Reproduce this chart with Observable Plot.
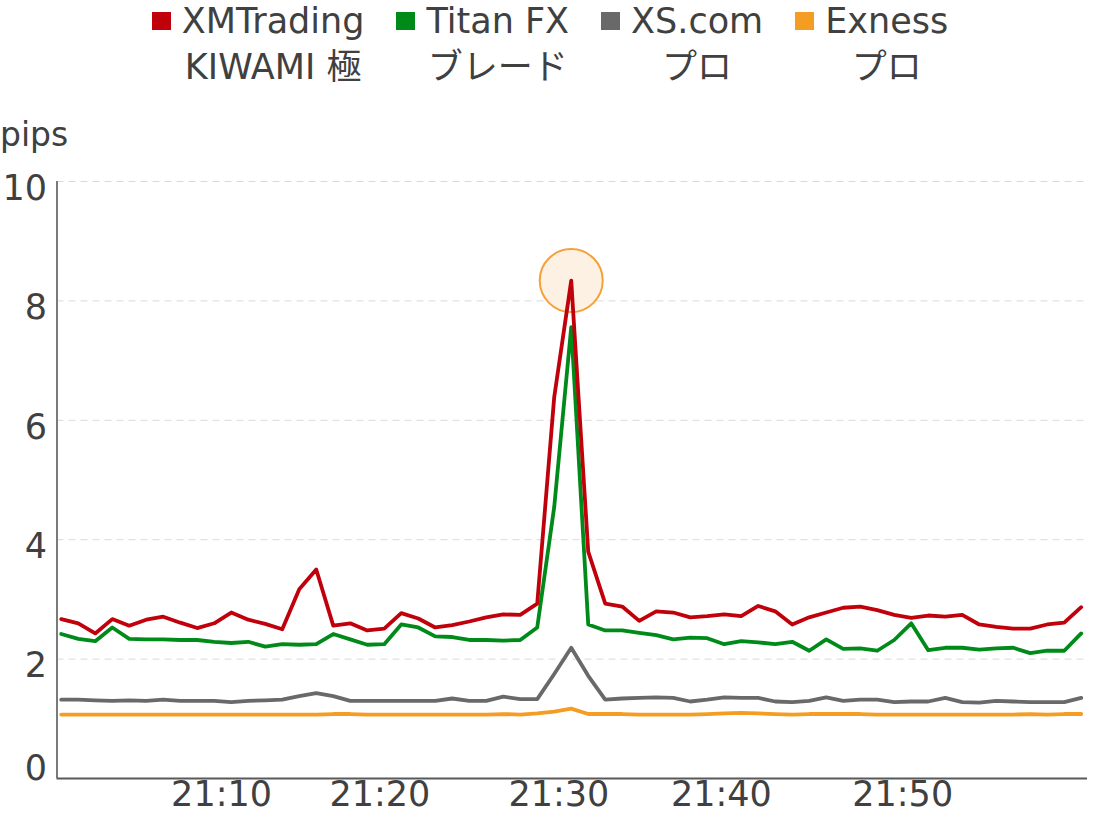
<!DOCTYPE html>
<html><head><meta charset="utf-8">
<script src="https://cdn.jsdelivr.net/npm/d3@7"></script>
<script src="https://cdn.jsdelivr.net/npm/@observablehq/plot@0.6"></script>
<style>
body{margin:0;background:#fff;width:1100px;height:815px;position:relative;overflow:hidden;font-family:'DejaVu Sans','Noto Sans CJK JP',sans-serif;color:#404040}
#legend{position:absolute;top:-2px;left:0;width:1100px;display:flex;justify-content:center;gap:32px;font-size:35px}
.item{display:flex;align-items:flex-start}
.sw{width:19px;height:18px;margin-top:14px;margin-right:11px;flex:none}
.txt{text-align:center}
.txt div{height:46px;line-height:46px;white-space:nowrap}
#ylabel{position:absolute;left:0;top:118px;font-size:33px;line-height:1}
#chart{position:absolute;left:0;top:90px}
</style></head>
<body>
<div id="legend"></div>
<div id="ylabel">pips</div>
<div id="chart"></div>
<script>
// series names (two lines each) and colors
const names = [["XMTrading", "KIWAMI 極"], ["Titan FX", "ブレード"], ["XS.com", "プロ"], ["Exness", "プロ"]];
const colors = ["#C0000B", "#008A19", "#696969", "#F59D23"];

// spread values in pips, one per sample
const xmKiwami = [2.67,2.60,2.43,2.67,2.56,2.66,2.71,2.61,2.52,2.60,2.78,2.66,2.59,2.50,3.17,3.50,2.56,2.60,2.48,2.51,
  2.77,2.68,2.53,2.57,2.63,2.70,2.75,2.74,2.93,6.39,8.34,3.80,2.93,2.88,2.64,2.80,2.78,2.70,2.72,2.75,
  2.72,2.89,2.80,2.58,2.70,2.78,2.86,2.88,2.82,2.74,2.69,2.73,2.71,2.74,2.58,2.54,2.51,2.51,2.58,2.61,2.87];
const titanBlade = [2.42,2.34,2.30,2.53,2.34,2.33,2.33,2.32,2.32,2.29,2.27,2.29,2.21,2.25,2.24,2.25,2.42,2.33,2.24,2.25,
  2.58,2.53,2.38,2.37,2.32,2.32,2.31,2.32,2.53,4.55,7.56,2.58,2.48,2.48,2.44,2.40,2.33,2.36,2.35,2.25,
  2.30,2.28,2.25,2.29,2.14,2.33,2.17,2.18,2.14,2.32,2.60,2.15,2.19,2.19,2.16,2.18,2.19,2.10,2.14,2.14,2.43];
const xsPro = [1.32,1.32,1.31,1.30,1.31,1.30,1.32,1.30,1.30,1.30,1.28,1.30,1.31,1.32,1.38,1.43,1.38,1.30,1.30,1.30,
  1.30,1.30,1.30,1.34,1.30,1.30,1.37,1.33,1.33,1.75,2.19,1.72,1.32,1.34,1.35,1.36,1.35,1.29,1.32,1.36,
  1.35,1.35,1.29,1.28,1.30,1.36,1.30,1.32,1.32,1.28,1.29,1.29,1.35,1.28,1.27,1.30,1.29,1.28,1.28,1.28,1.35];
const exnessPro = [1.07,1.07,1.07,1.07,1.07,1.07,1.07,1.07,1.07,1.07,1.07,1.07,1.07,1.07,1.07,1.07,1.08,1.08,1.07,1.07,
  1.07,1.07,1.07,1.07,1.07,1.07,1.08,1.07,1.09,1.12,1.17,1.08,1.08,1.08,1.07,1.07,1.07,1.07,1.08,1.09,
  1.10,1.09,1.08,1.07,1.08,1.08,1.08,1.08,1.07,1.07,1.07,1.07,1.07,1.07,1.07,1.07,1.07,1.08,1.07,1.08,1.08];

// x tick labels and where they fall along the sample index
const tickLabels = ["21:10", "21:20", "21:30", "21:40", "21:50"];
const tickAt = [9.43, 18.74, 29.27, 38.83, 49.5];
const yTicks = [0, 2, 4, 6, 8, 10];

// legend
const legend = document.getElementById("legend");
names.forEach((lines, k) => {
  const item = document.createElement("div");
  item.className = "item";
  const sw = document.createElement("div");
  sw.className = "sw";
  sw.style.background = colors[k];
  const txt = document.createElement("div");
  txt.className = "txt";
  lines.forEach(t => { const d = document.createElement("div"); d.textContent = t; txt.appendChild(d); });
  item.appendChild(sw); item.appendChild(txt);
  legend.appendChild(item);
});

const seriesList = [xmKiwami, titanBlade, xsPro, exnessPro];
const drawOrder = [3, 2, 1, 0];
const peakIndex = xmKiwami.indexOf(d3.max(xmKiwami));
const peak = [{i: peakIndex, v: xmKiwami[peakIndex]}];
const xDomain = [-0.25, 60.37];

const chart = Plot.plot({
  width: 1100,
  height: 725,
  marginLeft: 56.5,
  marginRight: 13,
  marginTop: 91,
  marginBottom: 37,
  style: {fontFamily: "'DejaVu Sans','Noto Sans CJK JP',sans-serif", fontSize: "35px", color: "#404040", background: "transparent", overflow: "visible"},
  x: {type: "linear", domain: xDomain},
  y: {domain: [0, 10]},
  marks: [
    Plot.ruleY(yTicks.filter(d => d > 0), {stroke: "#d9d9d9", strokeWidth: 1, strokeDasharray: "7,5"}),
    Plot.dot(peak, {x: "i", y: "v", r: 31.5, fill: "#fdf1e4", stroke: "#f5a038", strokeWidth: 2}),
    ...drawOrder.map(k => Plot.line(seriesList[k], {x: (d, i) => i, y: d => d, stroke: colors[k], strokeWidth: 3.8, strokeLinejoin: "round", strokeLinecap: "round"})),
    Plot.ruleX([xDomain[0]], {y1: 0, y2: 10, stroke: "#7a7a7a", strokeWidth: 2}),
    Plot.ruleY([0], {stroke: "#595959", strokeWidth: 2}),
    Plot.axisY({ticks: yTicks.filter(d => d > 0), tickSize: 0, tickPadding: 10, dy: 7, label: null}),
    Plot.axisY({ticks: yTicks.filter(d => d === 0), tickSize: 0, tickPadding: 10, dy: -10, label: null}),
    Plot.axisX({ticks: tickAt, tickFormat: d => tickLabels[tickAt.indexOf(d)], tickSize: 0, tickPadding: 3, label: null})
  ]
});
document.getElementById("chart").appendChild(chart);
</script>
</body></html>
